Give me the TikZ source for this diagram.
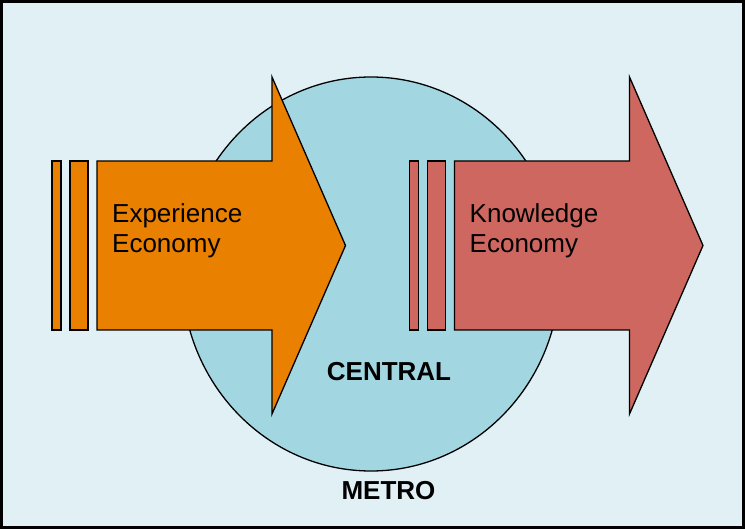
\documentclass[tikz,border=0pt]{standalone}
\usepackage{fontspec}
\setmainfont{Liberation Sans}
\definecolor{paleblue}{HTML}{E1F0F5}
\definecolor{metroblue}{HTML}{A2D7E2}
\definecolor{expcolor}{HTML}{E98000}
\definecolor{knowcolor}{HTML}{CD6760}
\begin{document}
\begin{tikzpicture}[x=1pt, y=-1pt,
  outline/.style={draw=black, line width=1.3pt, line join=miter},
  label/.style={inner sep=0pt, align=left, anchor=north west, font=\fontsize{26}{30}\selectfont},
  place/.style={inner sep=0pt, anchor=base, font=\fontsize{26}{30}\selectfont\bfseries}]
\useasboundingbox (0,0) rectangle (745,529);
\draw [fill=paleblue, line width=2.5pt] (1.5,1.5) rectangle (743.5,527.5);
\draw [outline, fill=metroblue] (371,274) ellipse [x radius=189, y radius=197];
\foreach \dx/\col in {0/expcolor, 357.5/knowcolor}
{
  \begin{scope}[xshift=\dx]
  \draw [outline, fill=\col] (52,161) rectangle (61,330);
  \draw [outline, fill=\col] (70,161) rectangle (88,330);
  \draw [outline, fill=\col] (97,161) -- (272,161) -- (272,77) -- (345.5,245.5)
    -- (272,414) -- (272,330) -- (97,330) -- cycle;
  \end{scope}
}
\node [label] (experience) at (112,203) {Experience\\Economy};
\node [label] (knowledge) at (469.5,203) {Knowledge\\Economy};
\node [place] (central) at (389,380.7) {CENTRAL};
\node [place] (metro) at (388.5,499) {METRO};
\end{tikzpicture}
\end{document}
